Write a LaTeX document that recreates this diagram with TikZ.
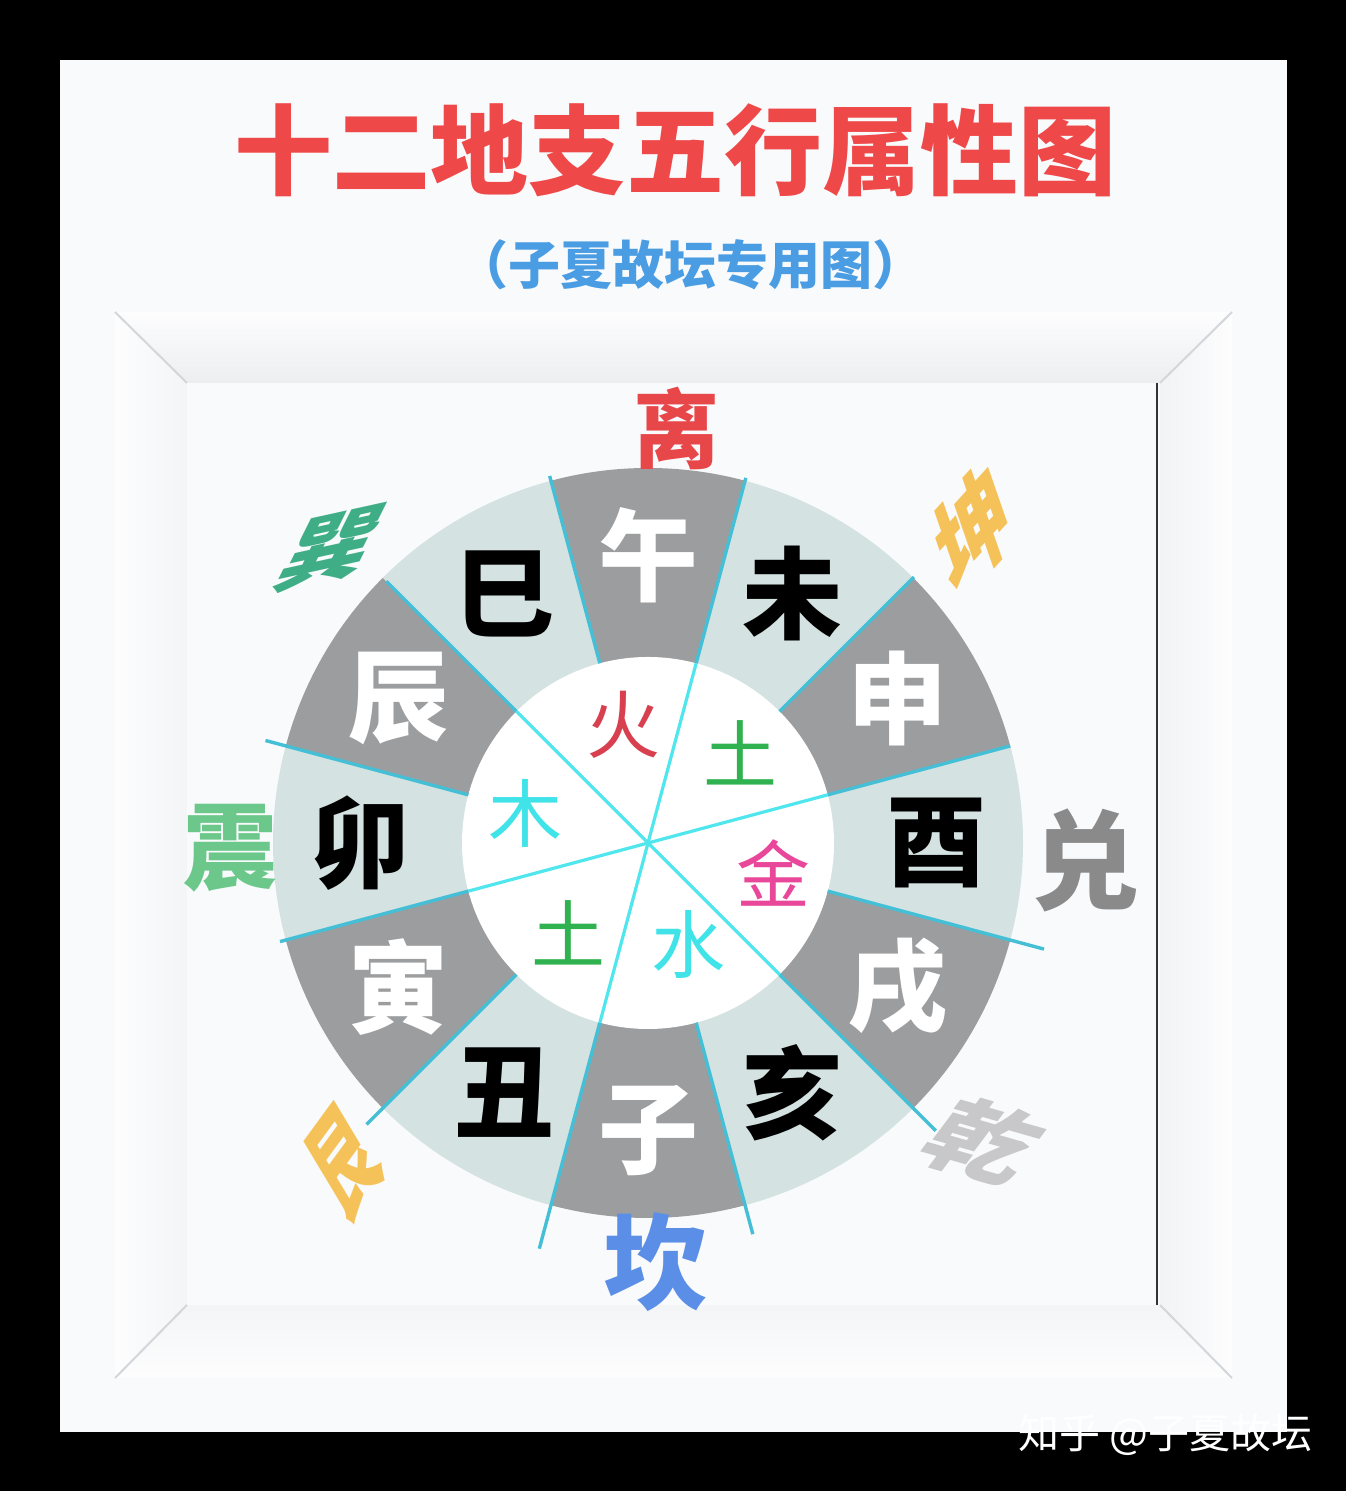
\documentclass[tikz,border=0pt]{standalone}
\usepackage{fontspec}
\newfontfamily\cjk{Noto Sans CJK SC}
\usetikzlibrary{
    calc,
    positioning
}

\definecolor{panel}{HTML}{F9FAFC}
\definecolor{framehi}{HTML}{FDFDFE}
\definecolor{framelo}{HTML}{ECEEF0}
\definecolor{miter}{HTML}{D3D6DA}
\definecolor{ringdark}{HTML}{9C9D9F}
\definecolor{ringlight}{HTML}{D4E2E2}
\definecolor{ringline}{HTML}{45BFD6}
\definecolor{coreline}{HTML}{4FE6EE}
\definecolor{titlered}{HTML}{EF4848}
\definecolor{subblue}{HTML}{4A9DE2}
\definecolor{firered}{HTML}{D84050}
\definecolor{earthgreen}{HTML}{2FB24F}
\definecolor{woodcyan}{HTML}{3FE3E8}
\definecolor{metalpink}{HTML}{E8479A}
\definecolor{ligua}{HTML}{E8474A}
\definecolor{kungold}{HTML}{F5C25A}
\definecolor{duigray}{HTML}{8A8A8A}
\definecolor{qiangray}{HTML}{C8C8CA}
\definecolor{kanblue}{HTML}{5B8EE6}
\definecolor{zhengreen}{HTML}{6CC88A}
\definecolor{xunteal}{HTML}{3FAE86}

\begin{document}
\begin{tikzpicture}[x=0.5pt,y=0.5pt,
    branch/.style={inner sep=0pt, font=\cjk\bfseries\fontsize{50}{50}\selectfont},
    element/.style={inner sep=0pt, font=\cjk\fontsize{37}{37}\selectfont},
    trigram/.style={inner sep=0pt, font=\cjk\bfseries\fontsize{46}{46}\selectfont},
    divider/.style={draw=ringline, line width=1.7pt},
    coredivider/.style={draw=coreline, line width=1.6pt}]
\useasboundingbox (0,0) rectangle (1346,1491);
\fill[black] (0,0) rectangle (1346,1491);
\fill[panel] (60,59) rectangle (1287,1431);

% frame
\coordinate (otl) at (115,1179);
\coordinate (otr) at (1232,1179);
\coordinate (obr) at (1232,113);
\coordinate (obl) at (115,113);
\coordinate (itl) at (187,1108);
\coordinate (itr) at (1160,1108);
\coordinate (ibr) at (1160,186);
\coordinate (ibl) at (187,186);
\shade[top color=framehi, bottom color=framelo] (otl) -- (otr) -- (itr) -- (itl) -- cycle;
\shade[left color=framehi, right color=framelo!60] (otl) -- (itl) -- (ibl) -- (obl) -- cycle;
\shade[left color=framelo!70, right color=framehi] (otr) -- (itr) -- (ibr) -- (obr) -- cycle;
\shade[top color=framelo!60, bottom color=framehi] (ibl) -- (ibr) -- (obr) -- (obl) -- cycle;
\fill[panel] (itl) rectangle (ibr);
\draw[miter, line width=1pt] (otl) -- (itl) (otr) -- (itr) (obr) -- (ibr) (obl) -- (ibl);
\draw[black!80, line width=1pt] (1157,1108) -- (1157,186);

% wheel
\coordinate (c) at (648,648);
\foreach \k in {0,...,11}{
    \ifodd\k \def\sc{ringlight}\else \def\sc{ringdark}\fi
    \fill[fill=\sc] (c) -- ++({105-30*\k}:375)
        arc[start angle={105-30*\k}, end angle={75-30*\k}, radius=375] -- cycle;
}
\fill[white] (c) circle[radius=186];
\foreach \ang/\len in {15/375,45/376,75/378,105/380,135/370,165/396,
                      195/381,225/398,255/420,285/405,315/407,345/410}
    \draw[divider] ($(c)+(\ang:186)$) -- ($(c)+(\ang:\len)$);
\foreach \ang in {15,75,135,195,255,315}
    \draw[coredivider] (c) -- ($(c)+(\ang:186)$);

% twelve branches
\foreach \ch [count=\k from 0] in {午,未,申,酉,戌,亥,子,丑,寅,卯,辰,巳}{
    \ifodd\k \def\tc{black}\else \def\tc{white}\fi
    \node[branch, text=\tc] (b\k) at ($(c)+({90-30*\k}:288)$) {\ch};
}

% five elements
\node[element, text=firered] (fire) at (623,766) {火};
\node[element, text=earthgreen] (earthA) at (740,738) {土};
\node[element, text=woodcyan] (wood) at (525,678) {木};
\node[element, text=metalpink] (metal) at (773,618) {金};
\node[element, text=earthgreen] (earthB) at (568,558) {土};
\node[element, text=woodcyan] (water) at (688,546) {水};

% eight trigrams
\node[trigram, text=ligua, font=\cjk\bfseries\fontsize{43}{43}\selectfont] (li) at (676,1063) {离};
\node[trigram, text=duigray, font=\cjk\bfseries\fontsize{54}{54}\selectfont] (dui) at (1085,631) {兑};
\node[trigram, text=kanblue, font=\cjk\bfseries\fontsize{52}{52}\selectfont] (kan) at (655,229) {坎};
\node[trigram, text=zhengreen, font=\cjk\bfseries\fontsize{47}{47}\selectfont] (zhen) at (230,643) {震};
\node[trigram, text=kungold, transform shape, cm={0.68,0.75,-0.36,1.04,(973,961)}] (kun) at (0,0) {坤};
\node[trigram, text=qiangray, transform shape, cm={1.05,-0.3,0.6,0.8,(984,350)}] (qian) at (0,0) {乾};
\node[trigram, text=kungold, transform shape, cm={0.46,0.63,-0.6,1.0,(344,328)}] (gen) at (0,0) {艮};
\node[trigram, text=xunteal, transform shape, cm={1.0,0.22,0.45,0.9,(331,943)}] (xun) at (0,0) {巽};

% titles
\node[font=\cjk\bfseries\fontsize{49}{49}\selectfont, text=titlered] (title) at (675,1341) {十二地支五行属性图};
\node[font=\cjk\bfseries\fontsize{26}{26}\selectfont, text=subblue] (subtitle) at (690,1226) {（子夏故坛专用图）};
\node[font=\cjk\fontsize{20.5}{20.5}\selectfont, text=white] (mark) at (1165,56) {知乎 @子夏故坛};
\end{tikzpicture}
\end{document}
